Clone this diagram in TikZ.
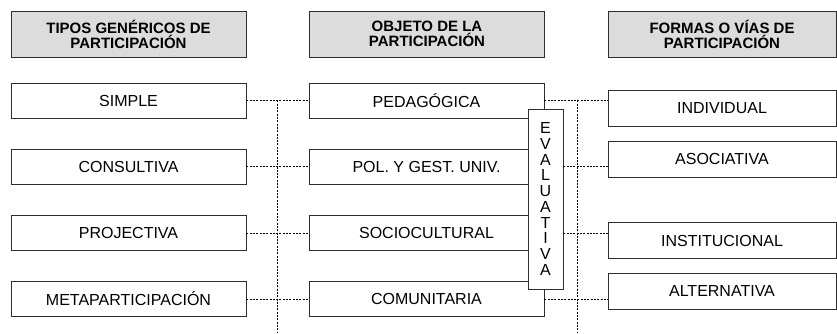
\documentclass[tikz,border=0pt]{standalone}
\usepackage{fontspec}
\setmainfont{Liberation Sans}
\definecolor{grisfondo}{RGB}{220,220,220}
\definecolor{grislinea}{RGB}{45,45,45}
\tikzset{
  caja/.style={draw=grislinea, line width=0.9pt, fill=white, minimum width=235pt, minimum height=35pt, inner sep=0pt, font=\fontsize{16}{18}\selectfont},
  cabecera/.style={caja, fill=grisfondo, minimum height=46pt, align=center, font=\fontsize{15}{15}\selectfont\bfseries},
  enlace/.style={draw=black, line width=0.8pt, dash pattern=on 2pt off 1.3pt},
}
\begin{document}
\begin{tikzpicture}[x=1pt, y=-1pt]
      \useasboundingbox (0,0) rectangle (837,334);

      \node[cabecera](tipos) at(128.5, 34){TIPOS GENÉRICOS DE\\PARTICIPACIÓN};
      \node[cabecera](objeto) at(427, 34){OBJETO DE LA\\PARTICIPACIÓN};
      \node[cabecera, minimum width=228pt](formas) at(722, 34){FORMAS O VÍAS DE\\PARTICIPACIÓN};

      \node[caja](simple) at(128.5, 100.5){SIMPLE};
      \node[caja](consultiva) at(128.5, 166.5){CONSULTIVA};
      \node[caja](projectiva) at(128.5, 233){PROJECTIVA};
      \node[caja](meta) at(128.5, 299){METAPARTICIPACIÓN};

      \node[caja](pedagogica) at(426.5, 100.5){PEDAGÓGICA};
      \node[caja](politica) at(426.5, 166.5){POL. Y GEST. UNIV.};
      \node[caja](sociocultural) at(426.5, 233){SOCIOCULTURAL};
      \node[caja](comunitaria) at(426.5, 299){COMUNITARIA};

      \node[caja, minimum width=35pt, minimum height=180pt, align=center, font=\fontsize{16}{15.7}\selectfont](evaluativa) at(545.5, 199){E\\V\\A\\L\\U\\A\\T\\I\\V\\A};

      \node[caja, minimum width=228pt, minimum height=36pt](individual) at(722, 108){INDIVIDUAL};
      \node[caja, minimum width=228pt, minimum height=36pt](asociativa) at(722, 159){ASOCIATIVA};
      \node[caja, minimum width=228pt, minimum height=36pt](institucional) at(722, 240.5){INSTITUCIONAL};
      \node[caja, minimum width=228pt, minimum height=36pt](alternativa) at(722, 291){ALTERNATIVA};

      \coordinate (izqarriba) at(277, 100.5);
      \coordinate (izqabajo) at(277, 332);
      \coordinate (derarriba) at(577, 100.5);
      \coordinate (derabajo) at(577, 332);

        \draw[enlace](izqarriba) to (izqabajo);
        \draw[enlace](simple) to (pedagogica);
        \draw[enlace](consultiva) to (politica);
        \draw[enlace](projectiva) to (sociocultural);
        \draw[enlace](meta) to (comunitaria);

        \draw[enlace](derarriba) to (derabajo);
        \draw[enlace](pedagogica.east) to (pedagogica.east -| individual.west);
        \draw[enlace](evaluativa.east |- politica) to (politica -| asociativa.west);
        \draw[enlace](evaluativa.east |- sociocultural) to (sociocultural -| institucional.west);
        \draw[enlace](comunitaria.east) to (comunitaria.east -| alternativa.west);

\end{tikzpicture}
\end{document}
